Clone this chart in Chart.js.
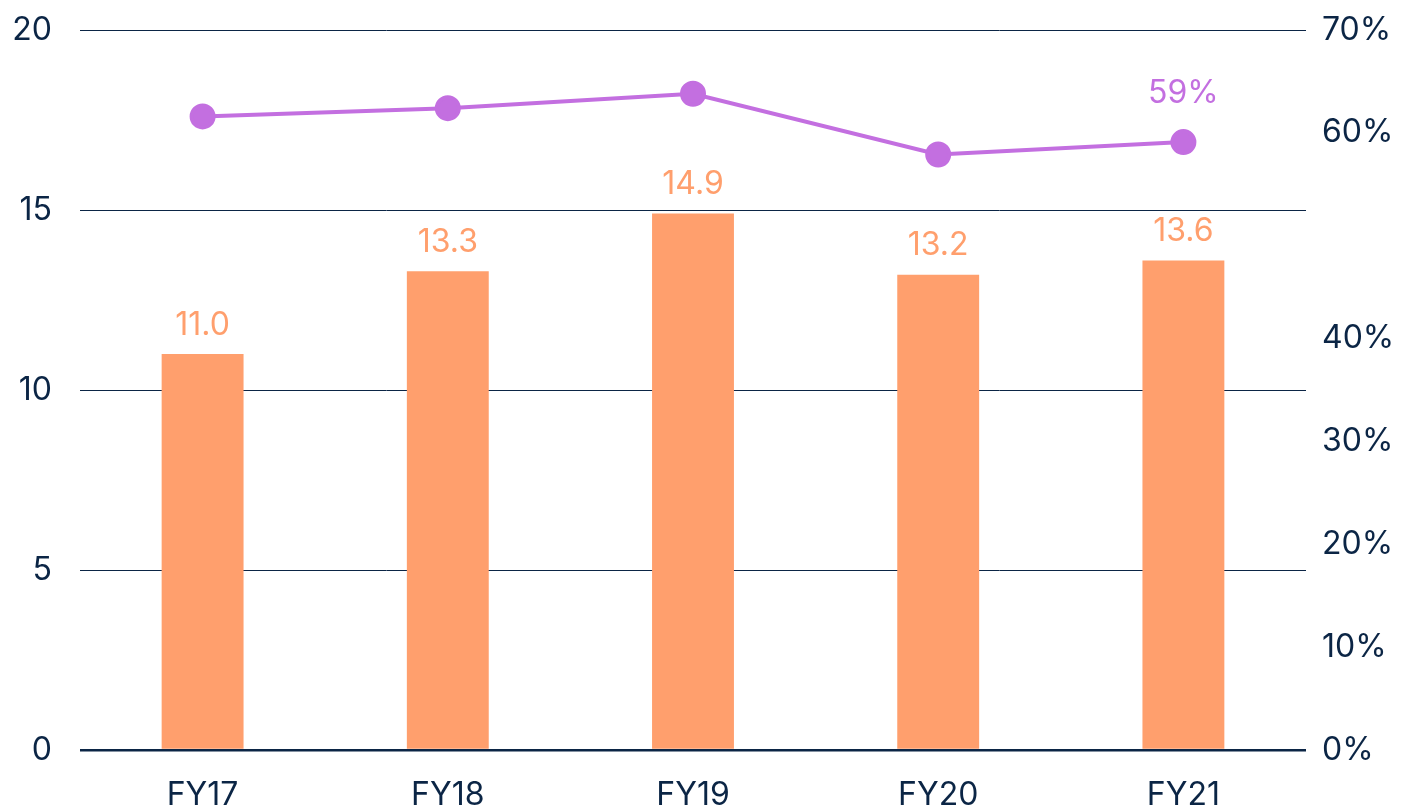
<!DOCTYPE html>
<html>
<head>
<meta charset="utf-8">
<script src="https://cdn.jsdelivr.net/npm/chart.js@4"></script>
<style>
    html, body { margin: 0; padding: 0; background: #fff; overflow: hidden; }
    #wrap { width: 1401px; height: 840px; }
</style>
</head>
<body>
<div id="wrap"><canvas id="revenueChart"></canvas></div>
<script>
    // データ
    const labels = ['FY17', 'FY18', 'FY19', 'FY20', 'FY21'];
    const revenue = [11.0, 13.3, 14.9, 13.2, 13.6];
    const margin = [61.6, 62.4, 63.8, 57.9, 59.1];
    const marginLabels = ['', '', '', '', '59%'];

    // カラー
    const barColor = '#FF9F6D';
    const lineColor = '#C36FE0';
    const inkColor = '#0B2545';
    const fontFamily = 'Inter, "Noto Sans", sans-serif';

    // 値ラベル
    const valueLabels = {
        id: 'valueLabels',
        afterDatasetsDraw(chart) {
            const ctx = chart.ctx;
            ctx.save();
            ctx.font = '32px ' + fontFamily;
            ctx.textAlign = 'center';
            ctx.textBaseline = 'middle';
            // 0: 折れ線, 1: 棒
            chart.getDatasetMeta(1).data.forEach((bar, i) => {
                ctx.fillStyle = barColor;
                ctx.fillText(revenue[i].toFixed(1), bar.x, bar.y - 29);
            });
            chart.getDatasetMeta(0).data.forEach((pt, i) => {
                if (!marginLabels[i]) return;
                ctx.fillStyle = lineColor;
                ctx.fillText(marginLabels[i], pt.x, pt.y - 49);
            });
            ctx.restore();
        },
    };

    // 縦軸の上下余白をなくす
    function fixVertical(width) {
        return function (scale) {
            scale.width = width;
            scale.paddingTop = 0;
            scale.paddingBottom = 0;
        };
    }

    const ctx = document.getElementById('revenueChart').getContext('2d');
    new Chart(ctx, {
        data: {
            labels: labels,
            datasets: [
                {
                    type: 'line',
                    data: margin,
                    yAxisID: 'y1',
                    borderColor: lineColor,
                    backgroundColor: lineColor,
                    borderWidth: 4,
                    pointRadius: 11,
                    pointHoverRadius: 11,
                    tension: 0,
                    order: 0,
                },
                {
                    type: 'bar',
                    data: revenue,
                    yAxisID: 'y',
                    backgroundColor: barColor,
                    categoryPercentage: 1,
                    barPercentage: 0.334,
                    order: 1,
                },
            ],
        },
        options: {
            responsive: true,
            maintainAspectRatio: false,
            animation: false,
            layout: { padding: { top: 30, left: 0, right: 0, bottom: 0 } },
            plugins: {
                legend: { display: false },
                tooltip: { enabled: false },
            },
            scales: {
                x: {
                    grid: { display: false },
                    border: { display: false },
                    ticks: {
                        color: inkColor,
                        font: { family: fontFamily, size: 32 },
                        padding: 18,
                    },
                    afterFit(scale) { scale.height = 90; },
                },
                y: {
                    position: 'left',
                    min: 0,
                    max: 20,
                    ticks: {
                        stepSize: 5,
                        color: inkColor,
                        font: { family: fontFamily, size: 32 },
                        padding: 28,
                    },
                    grid: {
                        color: inkColor,
                        lineWidth: (c) => (c.tick && c.tick.value === 0 ? 2.5 : 1),
                        drawTicks: false,
                    },
                    border: { display: false },
                    afterFit: fixVertical(80),
                },
                y1: {
                    position: 'right',
                    min: 0,
                    max: 70,
                    ticks: {
                        stepSize: 10,
                        color: inkColor,
                        font: { family: fontFamily, size: 32 },
                        padding: 16,
                        callback: (v) => (v === 50 ? '' : v + '%'),
                    },
                    grid: { display: false, drawTicks: false },
                    border: { display: false },
                    afterFit: fixVertical(95),
                },
            },
        },
        plugins: [valueLabels],
    });
</script>
</body>
</html>
